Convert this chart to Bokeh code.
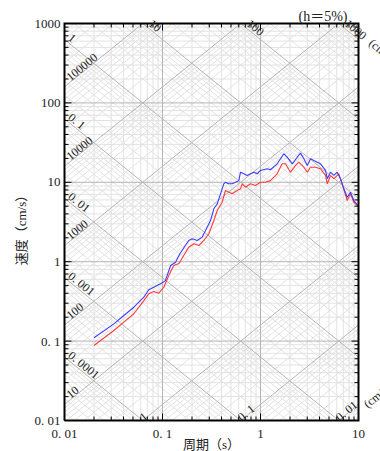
import math
from bokeh.plotting import figure
from bokeh.models import Range1d
from bokeh.core.properties import value
from bokeh.embed import file_html
from bokeh.resources import INLINE

# ---------------- data ----------------
period_blue = [0.02, 0.0319, 0.0403, 0.051, 0.0645, 0.0724, 0.0815, 0.0955, 0.107, 0.121,
               0.136, 0.150, 0.185, 0.201, 0.226, 0.254, 0.275, 0.309, 0.334, 0.362,
               0.391, 0.422, 0.439, 0.475, 0.514, 0.556, 0.601, 0.625, 0.676, 0.731,
               0.791, 0.855, 0.925, 1.0, 1.17, 1.26, 1.48, 1.60, 1.73, 1.87,
               2.11, 2.37, 2.56, 2.77, 3.00, 3.24, 3.50, 3.79, 4.10, 4.61,
               4.80, 5.18, 5.60, 6.06, 6.55, 7.08, 7.67, 8.28, 8.96, 9.70, 10.0]
vel_blue = [0.110, 0.165, 0.210, 0.267, 0.357, 0.443, 0.477, 0.527, 0.578, 0.895,
            0.986, 1.25, 1.85, 1.94, 1.85, 2.04, 2.47, 3.30, 4.64, 5.36,
            7.16, 9.57, 10.0, 9.57, 9.57, 10.0, 10.5, 13.4, 12.8, 12.2,
            12.8, 13.4, 12.8, 14.1, 14.8, 14.4, 17.1, 19.8, 22.9, 20.7,
            17.1, 20.7, 23.3, 19.8, 16.3, 19.8, 18.8, 17.9, 17.1, 14.1,
            11.1, 13.4, 12.2, 13.4, 11.1, 8.28, 6.49, 7.50, 5.90, 5.25, 5.2]

period_red = [0.02, 0.0319, 0.0403, 0.051, 0.0645, 0.0724, 0.0815, 0.0917, 0.103, 0.116,
              0.130, 0.147, 0.185, 0.209, 0.235, 0.264, 0.297, 0.334, 0.362, 0.406,
              0.439, 0.475, 0.514, 0.578, 0.625, 0.650, 0.703, 0.791, 0.889, 1.0,
              1.12, 1.26, 1.48, 1.66, 1.80, 2.02, 2.28, 2.46, 2.77, 3.00,
              3.24, 3.64, 4.10, 4.61, 4.80, 5.18, 5.60, 6.29, 6.82, 7.67,
              8.28, 8.96, 10.0]
vel_red = [0.088, 0.136, 0.173, 0.221, 0.324, 0.394, 0.421, 0.401, 0.477, 0.670,
           0.895, 0.95, 1.52, 1.68, 1.60, 1.85, 2.25, 3.30, 4.42, 5.61,
           7.88, 7.50, 7.16, 7.88, 8.28, 9.57, 8.67, 9.57, 9.12, 10.0,
           10.0, 10.5, 12.8, 17.1, 17.1, 13.4, 16.3, 17.9, 15.5, 13.4,
           15.5, 15.5, 14.8, 12.2, 9.57, 12.2, 11.1, 12.8, 9.57, 5.90,
           7.16, 5.61, 4.96]

x_ticks = [0.01, 0.1, 1, 10]
x_tick_labels = ["0. 01", "0. 1", "1", "10"]
y_ticks = [0.01, 0.1, 1, 10, 100, 1000]
y_tick_labels = ["0. 01", "0. 1", "1", "10", "100", "1000"]

# tripartite labels: displacement (cm) and acceleration (cm/s^2)
disp_left = [1, 0.1, 0.01, 0.001, 0.0001]
disp_left_labels = ["1", "0. 1", "0. 01", "0. 001", "0. 0001"]
disp_top = [10, 100, 1000]
disp_top_labels = ["10", "100", "1000"]
acc_left = [100000, 10000, 1000, 100, 10]
acc_left_labels = ["100000", "10000", "1000", "100", "10"]
acc_bottom = [1, 0.1, 0.01]
acc_bottom_labels = ["1", "0. 1", "0. 01"]

x_title = "周期（s）"
y_title = "速度（cm/s）"
damping_text = "(h＝5%)"
disp_unit = "(cm)"
acc_unit = "(cm/s²)"

# ---------------- layout ----------------
TWO_PI = 2 * math.pi
T_MIN, T_MAX = 0.01, 10.0
V_MIN, V_MAX = 0.01, 1000.0
W, H = 380, 451
BOX_L, BOX_T, BOX_R, BOX_B = 64, 23, 358, 420   # box edges in canvas pixels
PXX = (BOX_R - BOX_L) / math.log10(T_MAX / T_MIN)
PXY = (BOX_B - BOX_T) / math.log10(V_MAX / V_MIN)
TH = math.atan(PXY / PXX)
C, S = math.cos(TH), math.sin(TH)
SERIF = "'Liberation Serif', 'Noto Sans CJK JP'"
INK = "#222222"


def shift(T, V, dx, dy_down):
    return T * 10 ** (dx / PXX), V * 10 ** (-dy_down / PXY)


def on_d(T0, V0, s, pn):  # along a down-right (constant displacement) line
    return shift(T0, V0, s * C + pn * S, s * S - pn * C)


def on_a(T0, V0, s, pn):  # along an up-right (constant acceleration) line
    return shift(T0, V0, s * C - pn * S, -s * S - pn * C)


x_lo, _ = shift(T_MIN, 1, -BOX_L, 0)
x_hi, _ = shift(T_MAX, 1, W - BOX_R, 0)
_, y_lo = shift(1, V_MIN, 0, H - BOX_B)
_, y_hi = shift(1, V_MAX, 0, -BOX_T)

p = figure(width=W, height=H, x_axis_type="log", y_axis_type="log",
           x_axis_location=None, y_axis_location=None, title=None,
           x_range=Range1d(x_lo, x_hi), y_range=Range1d(y_lo, y_hi),
           output_backend="svg", toolbar_location=None,
           min_border_left=0, min_border_right=0, min_border_top=0, min_border_bottom=0)
p.outline_line_color = None
p.grid.visible = False
p.background_fill_color = "white"
p.border_fill_color = "white"

x_minor = [m * 10 ** n for n in range(-2, 1) for m in range(2, 10)]
y_minor = [m * 10 ** n for n in range(-2, 3) for m in range(2, 10)]

MINOR_C = "#e3e3e3"
MAJOR_C = "#b5b5b5"

# ---------------- rectangular grid ----------------
def vlines(ts):
    return [[t, t] for t in ts], [[V_MIN, V_MAX] for _ in ts]


def hlines(vs):
    return [[T_MIN, T_MAX] for _ in vs], [[v, v] for v in vs]


# ---------------- tripartite diagonal grid ----------------
def d_lines(vals):
    xs, ys = [], []
    for d in vals:
        ta = max(T_MIN, TWO_PI * d / V_MAX)
        tb = min(T_MAX, TWO_PI * d / V_MIN)
        if ta < tb:
            xs.append([ta, tb])
            ys.append([TWO_PI * d / ta, TWO_PI * d / tb])
    return xs, ys


def a_lines(vals):
    xs, ys = [], []
    for a in vals:
        ta = max(T_MIN, TWO_PI * V_MIN / a)
        tb = min(T_MAX, TWO_PI * V_MAX / a)
        if ta < tb:
            xs.append([ta, tb])
            ys.append([a * ta / TWO_PI, a * tb / TWO_PI])
    return xs, ys


d_major = [10.0 ** n for n in range(-5, 5)]
d_minor = [m * 10.0 ** n for n in range(-5, 4) for m in range(2, 10)]
a_major = [10.0 ** n for n in range(-3, 7)]
a_minor = [m * 10.0 ** n for n in range(-3, 6) for m in range(2, 10)]

for xs, ys in (vlines(x_minor), hlines(y_minor), d_lines(d_minor), a_lines(a_minor)):
    p.multi_line(xs, ys, line_color=MINOR_C, line_width=1)
for xs, ys in (vlines(x_ticks), hlines(y_ticks), d_lines(d_major), a_lines(a_major)):
    p.multi_line(xs, ys, line_color=MAJOR_C, line_width=1)

# ---------------- spectra ----------------
p.line(period_red, vel_red, line_color="#ff3a3a", line_width=1.1)
p.line(period_blue, vel_blue, line_color="#3c3cff", line_width=1.1)

# ---------------- frame box and inward ticks ----------------
p.line([T_MIN, T_MAX, T_MAX, T_MIN, T_MIN], [V_MIN, V_MIN, V_MAX, V_MAX, V_MIN],
       line_color="black", line_width=2, line_join="miter")


def tick_segments(ts, vs, length):
    x0, y0, x1, y1 = [], [], [], []
    for t in ts:  # bottom and top
        x0 += [t, t]
        y0 += [V_MIN, V_MAX]
        x1 += [t, t]
        y1 += [shift(t, V_MIN, 0, -length)[1], shift(t, V_MAX, 0, length)[1]]
    for v in vs:  # left and right
        x0 += [T_MIN, T_MAX]
        y0 += [v, v]
        x1 += [shift(T_MIN, v, length, 0)[0], shift(T_MAX, v, -length, 0)[0]]
        y1 += [v, v]
    return x0, y0, x1, y1


for ts, vs, ln in ((x_ticks, y_ticks, 7), (x_minor, y_minor, 4)):
    x0, y0, x1, y1 = tick_segments(ts, vs, ln)
    p.segment(x0, y0, x1, y1, line_color="black", line_width=1)

# tick labels
xl_y = shift(1, V_MIN, 0, 13)[1]
p.text(x_ticks, [xl_y] * len(x_ticks), text=x_tick_labels, text_align="center", text_baseline="middle",
       text_font=value(SERIF), text_font_size=value("13px"), text_color=INK)
yl_x = shift(T_MIN, 1, -4, 0)[0]
p.text([yl_x] * len(y_ticks), y_ticks, text=y_tick_labels, text_align="right", text_baseline="middle",
       text_font=value(SERIF), text_font_size=value("13px"), text_color=INK)

# ---------------- diagonal labels ----------------
def add_texts(points, texts, angle, size="12px"):
    p.text([q[0] for q in points], [q[1] for q in points], text=texts, angle=angle,
           text_align="left", text_baseline="middle",
           text_font=value(SERIF), text_font_size=value(size), text_color=INK)


add_texts([on_d(T_MIN, TWO_PI * d / T_MIN, 2, 6) for d in disp_left], disp_left_labels, -TH)
add_texts([on_d(TWO_PI * d / V_MAX, V_MAX, 5, 6) for d in disp_top], disp_top_labels, -TH)
add_texts([on_a(T_MIN, a * T_MIN / TWO_PI, 8, 4.5) for a in acc_left], acc_left_labels, TH)
add_texts([on_a(TWO_PI * V_MIN / a, V_MIN, 0, 2.5) for a in acc_bottom], acc_bottom_labels, TH)
add_texts([on_d(TWO_PI * disp_top[-1] / V_MAX, V_MAX, 36, 6)], [disp_unit], -TH)
add_texts([on_a(TWO_PI * V_MIN / acc_bottom[-1], V_MIN, 30, -5)], [acc_unit], TH)

# damping note above the box
hx, hy = shift(T_MAX, V_MAX, -11, -7)
p.text([hx], [hy], text=[damping_text], text_align="right", text_baseline="middle",
       text_font=value(SERIF), text_font_size=value("14px"), text_color=INK)

# axis titles
gx, gy = shift(math.sqrt(T_MIN * T_MAX), V_MIN, 0, 24)
p.text([gx], [gy], text=[x_title], text_align="center", text_baseline="middle",
       text_font=value(SERIF), text_font_size=value("13px"), text_color=INK)
vx, vy = shift(T_MIN, math.sqrt(V_MIN * V_MAX), -43.5, 5)
p.text([vx], [vy], text=[y_title], angle=math.pi / 2, text_align="center", text_baseline="middle",
       text_font=value(SERIF), text_font_size=value("13px"), text_color=INK)

open("out.html", "w").write(file_html(p, INLINE))
